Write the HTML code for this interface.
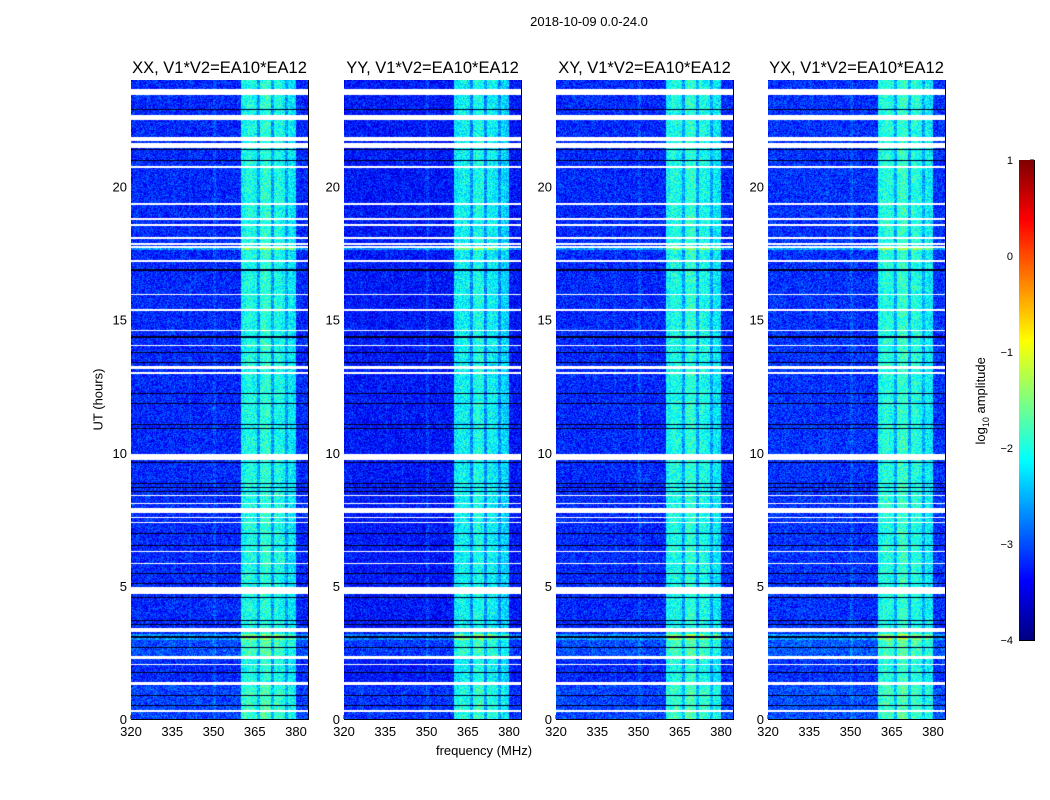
<!DOCTYPE html>
<html><head><meta charset="utf-8"><style>
body{margin:0;background:#fff;font-family:"Liberation Sans",sans-serif}
#root{position:relative;width:1050px;height:800px;overflow:hidden;background:#fff}
.t{position:absolute;font-size:13px;color:#000;white-space:nowrap}
canvas{position:absolute}
</style></head><body>
<div id="root">
<div class="t" style="left:489px;top:14px;width:200px;text-align:center">2018-10-09 0.0-24.0</div>
<div class="t" style="left:48px;top:392px;width:100px;text-align:center;transform:rotate(-90deg)">UT (hours)</div>
<div class="t" style="left:384px;top:743px;width:200px;text-align:center">frequency (MHz)</div>
<div class="t" style="left:922px;top:392px;width:120px;text-align:center;transform:rotate(-90deg)">log<sub style="font-size:9px">10</sub> amplitude</div>
<svg id="ov" width="1050" height="800" style="position:absolute;left:0;top:0"></svg>
</div>
<script>
// ---- data ----
const panelTitles=["XX, V1*V2=EA10*EA12","YY, V1*V2=EA10*EA12","XY, V1*V2=EA10*EA12","YX, V1*V2=EA10*EA12"];
const panelOffsets=[0,-0.1,0,0.05];
const freqStart=320; // MHz, 1 MHz channels
const freqProfile=[-3.2,-3.2,-3.15,-3.2,-3.2,-3.2,-3.15,-3.2,-3.2,-3.2,-3.2,-3.2,-3.2,-3.15,-3.2,-3.15,-3.2,-3.2,-3.2,-3.2,-3.2,-3.1,-3.2,-3.2,-3.2,-3.2,-3.2,-3.2,-3.2,-3.2,-3.0,-3.2,-3.2,-3.2,-3.2,-3.2,-3.2,-3.2,-3.2,-3.2,-2.1,-2.1,-2.0,-2.0,-2.05,-2.1,-2.6,-1.95,-1.9,-1.9,-1.95,-2.6,-2.0,-2.0,-2.05,-2.1,-2.6,-2.15,-2.2,-2.25,-3.2,-3.2,-3.2,-3.2,-3.2];
const whiteGaps=[[23.45,0.2],[22.48,0.19],[21.8,0.06],[21.72,0.06],[21.46,0.19],[20.7,0.07],[19.32,0.05],[18.76,0.05],[18.53,0.05],[18.04,0.05],[17.82,0.05],[17.7,0.05],[17.18,0.05],[15.91,0.05],[15.34,0.05],[14.56,0.05],[14.0,0.05],[13.15,0.12],[12.96,0.08],[9.74,0.22],[8.36,0.05],[8.06,0.05],[7.72,0.19],[7.54,0.05],[7.35,0.05],[6.26,0.05],[5.81,0.05],[4.7,0.27],[3.25,0.16],[2.24,0.12],[2.02,0.05],[1.26,0.12],[0.25,0.08]];
const blackLines=[[22.89,0.04],[21.4,0.04],[20.98,0.04],[16.85,0.08],[14.35,0.1],[13.76,0.04],[13.4,0.04],[12.23,0.04],[11.86,0.04],[11.07,0.04],[10.92,0.04],[9.64,0.04],[8.85,0.04],[8.7,0.04],[8.55,0.04],[6.98,0.04],[6.53,0.04],[5.48,0.04],[5.1,0.04],[4.58,0.04],[3.71,0.04],[3.56,0.04],[3.08,0.04],[2.7,0.04],[1.73,0.04],[0.9,0.04],[0.49,0.04]];
const timeBoost=[[2.95,3.2,0.55],[2.3,2.95,0.2],[0,1.25,0.15],[17.6,17.7,0.6]];
const xTicks=[320,335,350,365,380];
const yTicks=[0,5,10,15,20];
const cbTicks=[1,0,-1,-2,-3,-4];
const cbLabels=["1","0","\u22121","\u22122","\u22123","\u22124"];
// ---- layout ----
const panelX=[131,344,556,768], PW=177, PT=80, PB=719;
const fMin=320, fMax=320+177/2.75, hMin=0, hMax=24;
const xs=(f,i)=>panelX[i]+(f-fMin)/(fMax-fMin)*PW;
const ys=h=>PB-(h-hMin)/(hMax-hMin)*(PB-PT);
const cbX=1019,cbW=15,cbT=160,cbB=640,vMin=-4,vMax=1;
const cy=v=>cbB-(v-vMin)/(vMax-vMin)*(cbB-cbT);
function jet(t){t=Math.max(0,Math.min(1,t));
 const c=x=>Math.max(0,Math.min(1,x));
 return [c(1.5-Math.abs(4*t-3)),c(1.5-Math.abs(4*t-2)),c(1.5-Math.abs(4*t-1))].map(v=>Math.round(v*255));}
function hash(a,b){let h=(a*374761393+b*668265263)^0x5bd1e995;h=(h^(h>>>13))*1274126177;h^=h>>>16;return ((h>>>0)%10000)/10000;}
const root=document.getElementById('root'), ov=document.getElementById('ov');
const NS="http://www.w3.org/2000/svg";
function sv(tag,attrs){const e=document.createElementNS(NS,tag);for(const k in attrs)e.setAttribute(k,attrs[k]);ov.appendChild(e);return e;}
const rowH=(hMax-hMin)/(PB-PT);
for(let p=0;p<4;p++){
 const cv=document.createElement('canvas');cv.width=PW;cv.height=PB-PT;
 cv.style.left=panelX[p]+'px';cv.style.top=PT+'px';
 
 
 root.appendChild(cv);
 const ctx=cv.getContext('2d');const img=ctx.createImageData(PW,PB-PT);
 for(let y=0;y<PB-PT;y++){
  const h=hMax-(y+0.5)/(PB-PT)*(hMax-hMin);
  let boost=0;for(const b of timeBoost)if(h>=b[0]&&h<b[1])boost+=b[2];
  let white=false,black=false;
  for(const g of whiteGaps)if(h>=g[0]&&h<g[0]+g[1])white=true;
  for(const g of blackLines)if(Math.abs(h-g[0])<=Math.max(g[1]/2,rowH/2))black=true;
  for(let x=0;x<PW;x++){
   const f=fMin+(x+0.5)/PW*(fMax-fMin);
   const k=Math.min(freqProfile.length-1,Math.max(0,Math.floor(f-freqStart)));
   let v=freqProfile[k]+boost+panelOffsets[p]+(hash(x+p*1000,y)-0.5)*0.8;
   let c=white?[255,255,255]:black?[0,0,40]:jet((v-vMin)/(vMax-vMin));
   const i=(y*PW+x)*4;img.data[i]=c[0];img.data[i+1]=c[1];img.data[i+2]=c[2];img.data[i+3]=255;
  }}
 ctx.putImageData(img,0,0);
 const fr=sv('rect',{x:panelX[p]+0.5,y:PT+0.5,width:PW,height:PB-PT,fill:'none',stroke:'#000','stroke-width':1});
 
 
 const tt=sv('text',{x:panelX[p]+PW/2,y:73,'text-anchor':'middle','font-size':16.5,'font-family':'Liberation Sans'});tt.textContent=panelTitles[p];
 
 
 for(const f of xTicks){const x=xs(f,p);
  sv('line',{x1:x,x2:x,y1:PB,y2:PB-4,stroke:'#000'});
  const t=sv('text',{x:x,y:PB+17,'text-anchor':'middle','font-size':13,'font-family':'Liberation Sans'});t.textContent=f;
  
  }
 for(const h of yTicks){const y=ys(h);
  sv('line',{x1:panelX[p],x2:panelX[p]+4,y1:y,y2:y,stroke:'#000'});
  const t=sv('text',{x:panelX[p]-4,y:y+5,'text-anchor':'end','font-size':13,'font-family':'Liberation Sans'});t.textContent=h;
  
  }
}
const cb=document.createElement('canvas');cb.width=cbW;cb.height=cbB-cbT;cb.style.left=cbX+'px';cb.style.top=cbT+'px';


root.appendChild(cb);
const cc=cb.getContext('2d');
for(let y=0;y<cbB-cbT;y++){const c=jet(1-y/(cbB-cbT));cc.fillStyle=`rgb(${c})`;cc.fillRect(0,y,cbW,1);}
sv('rect',{x:cbX+0.5,y:cbT+0.5,width:cbW,height:cbB-cbT,fill:'none',stroke:'#000'});
cbTicks.forEach((v,i)=>{const y=cy(v);
 sv('line',{x1:cbX+cbW-4,x2:cbX+cbW,y1:y,y2:y,stroke:'#000'});
 const t=sv('text',{x:cbX-6,y:y+4,'text-anchor':'end','font-size':11,'font-family':'Liberation Sans'});t.textContent=cbLabels[i];
 
 });
</script>
</body></html>
